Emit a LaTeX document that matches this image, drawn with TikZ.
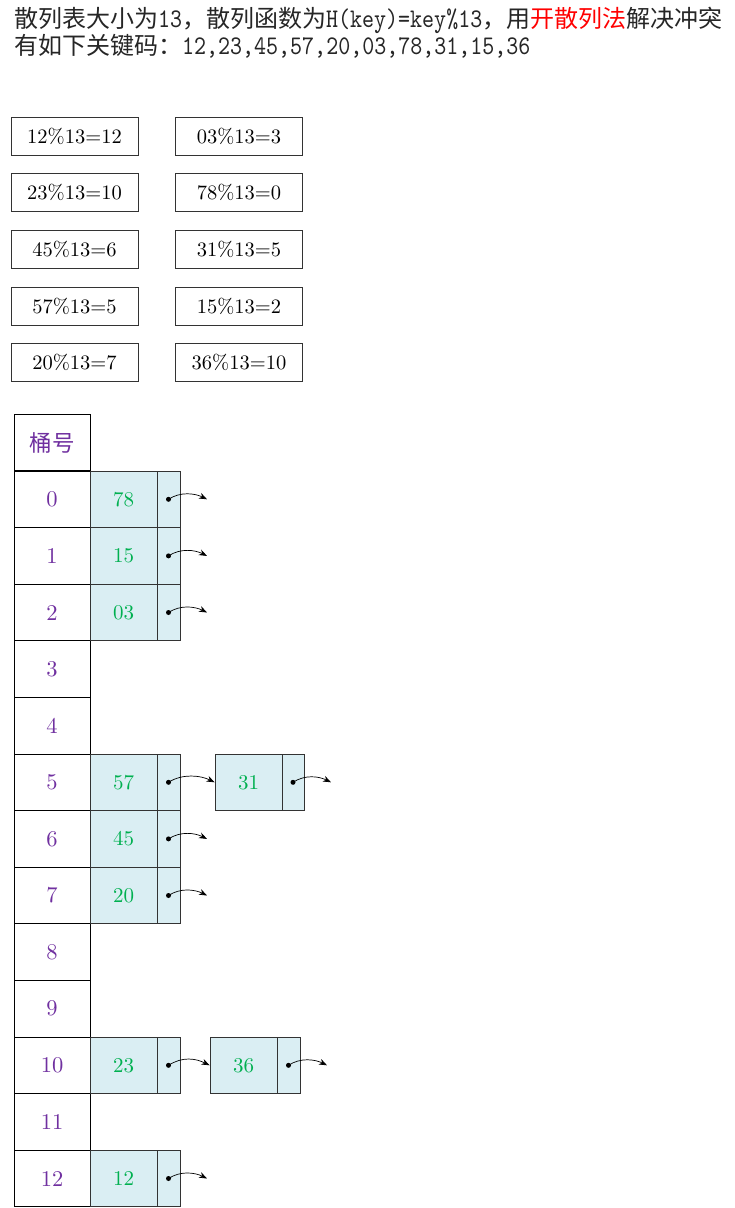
\documentclass[tikz,border=0pt]{standalone}
\usepackage{fontspec}
\usetikzlibrary{arrows.meta}
\newfontfamily\cjk{Noto Sans CJK SC}
\newfontfamily\lmten{lmroman10-regular.otf}
\newfontfamily\lmtt[FakeStretch=0.85]{lmmono10-regular.otf}
\newcommand\hdr[1]{{\cjk\fontsize{24}{24}\selectfont #1}}
\newcommand\hlat[1]{{\lmtt\fontsize{26.9}{27}\selectfont #1}}
\definecolor{cellfill}{HTML}{DAEEF3}
\definecolor{datagreen}{HTML}{00B050}
\definecolor{bucketpurple}{HTML}{7030A0}
\definecolor{titlegray}{HTML}{262626}
\begin{document}
\begin{tikzpicture}[x=1pt,y=-1pt,
 eqbox/.style={draw=black!80, line width=0.9pt, minimum width=127pt, minimum height=38pt, inner sep=0pt, font=\lmten\fontsize{20.5}{20.5}\selectfont},
 bucket/.style={draw, line width=0.9pt, minimum width=76pt, minimum height=56.6pt, inner sep=0pt, text=bucketpurple, font=\lmten\fontsize{22.5}{22.5}\selectfont},
 datacell/.style={draw=black!80, fill=cellfill, line width=0.9pt, minimum width=67pt, minimum height=56.6pt, inner sep=0pt, text=datagreen, font=\lmten\fontsize{21}{21}\selectfont},
 ptrcell/.style={draw=black!80, fill=cellfill, line width=0.9pt, minimum width=23pt, minimum height=56.6pt, inner sep=0pt},
 dot/.style={circle, fill=black, inner sep=0pt, minimum size=5pt},
 link/.style={-{Stealth[length=8pt,width=6pt]}, line width=0.7pt}
]
\useasboundingbox[fill=white] (0,0) rectangle (735,1208);

% title
\node[anchor=base west, inner sep=0pt, text=titlegray] (title1) at (14,27)
 {\hdr{散列表大小为}\hlat{13}\hdr{，散列函数为}\hlat{H(key)=key\%13}\hdr{，用}\textcolor{red}{\hdr{开散列法}}\hdr{解决冲突}};
\node[anchor=base west, inner sep=0pt, text=titlegray] (title2) at (14,54)
 {\hdr{有如下关键码：}\hlat{12,23,45,57,20,03,78,31,15,36}};

% hash computations
\node[eqbox] (e1) at (74.5,136) {12\%13=12};
\node[eqbox] (e2) at (74.5,192.5) {23\%13=10};
\node[eqbox] (e3) at (74.5,249) {45\%13=6};
\node[eqbox] (e4) at (74.5,306) {57\%13=5};
\node[eqbox] (e5) at (74.5,362.5) {20\%13=7};
\node[eqbox] (e6) at (239,136) {03\%13=3};
\node[eqbox] (e7) at (239,192.5) {78\%13=0};
\node[eqbox] (e8) at (239,249) {31\%13=5};
\node[eqbox] (e9) at (239,306) {15\%13=2};
\node[eqbox] (e10) at (239,362.5) {36\%13=10};

% bucket column
\node[bucket] (bh) at (52,442.5) {\cjk 桶号};
\foreach \i in {0,...,12}{
  \node[bucket] (b\i) at (52,{499.3+56.6*\i}) {\i};
}

% first-level list nodes
\foreach \i/\v in {0/78,1/15,2/03,5/57,6/45,7/20,10/23,12/12}{
  \node[datacell] (n\i) at (123.5,{499.3+56.6*\i}) {\v};
  \node[ptrcell] (p\i) at (168.5,{499.3+56.6*\i}) {};
  \node[dot] (d\i) at (p\i.center) {};
}

% second-level nodes
\node[datacell] (n5b) at (248.5,782.3) {31};
\node[ptrcell, minimum width=22pt] (p5b) at (293,782.3) {};
\node[dot] (d5b) at (p5b.center) {};
\node[datacell] (n10b) at (243.5,1065.3) {36};
\node[ptrcell] (p10b) at (288.5,1065.3) {};
\node[dot] (d10b) at (p10b.center) {};

% free arrow ends
\foreach \i in {0,1,2,6,7,12}{
  \coordinate (t\i) at (207,{499.3+56.6*\i});
}
\coordinate (t5b) at (331,782.3);
\coordinate (t10b) at (327,1065.3);

% links
\foreach \i in {0,1,2,6,7,12}{
  \draw[link] (d\i.center) .. controls +(12,-8) and +(-12,-6) .. (t\i);
}
\draw[link] (d5.center) .. controls +(14,-9) and +(-14,-7) .. (n5b.west);
\draw[link] (d10.center) .. controls +(14,-9) and +(-14,-7) .. (n10b.west);
\draw[link] (d5b.center) .. controls +(12,-8) and +(-12,-6) .. (t5b);
\draw[link] (d10b.center) .. controls +(12,-8) and +(-12,-6) .. (t10b);
\end{tikzpicture}
\end{document}
